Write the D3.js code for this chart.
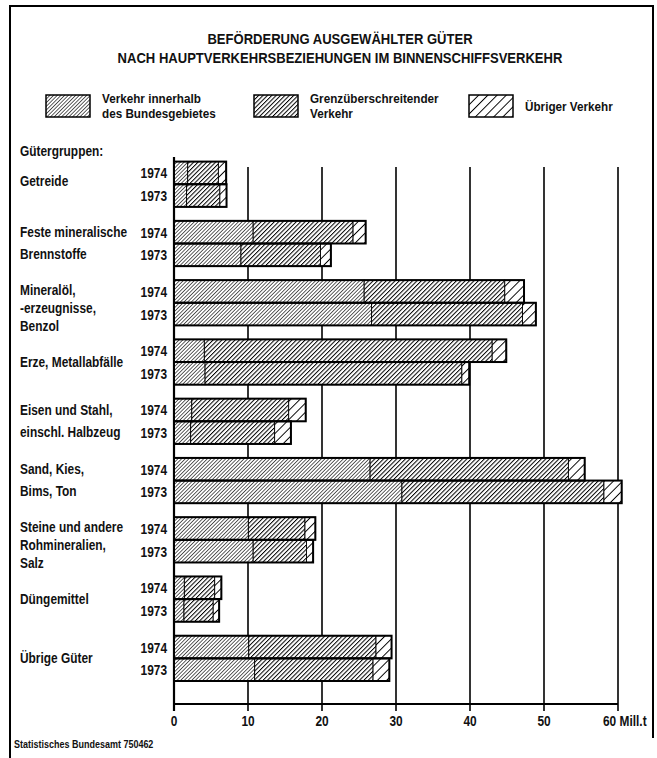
<!DOCTYPE html>
<html><head><meta charset="utf-8">
<script src="https://cdn.jsdelivr.net/npm/d3@7"></script>
<style>
html,body{margin:0;padding:0;background:#fff;}
svg text{font-family:'Liberation Sans','Arial',sans-serif;font-weight:bold;fill:#111;}
</style></head>
<body>
<svg id="c" width="657" height="758"></svg>
<script>
// ---- data ----
const categories = ["Getreide","Feste mineralische Brennstoffe","Mineralöl, -erzeugnisse, Benzol","Erze, Metallabfälle","Eisen und Stahl, einschl. Halbzeug","Sand, Kies, Bims, Ton","Steine und andere Rohmineralien, Salz","Düngemittel","Übrige Güter"];
const categoryLines = [["Getreide"],["Feste mineralische","Brennstoffe"],["Mineralöl,","-erzeugnisse,","Benzol"],["Erze, Metallabfälle"],["Eisen und Stahl,","einschl. Halbzeug"],["Sand, Kies,","Bims, Ton"],["Steine und andere","Rohmineralien,","Salz"],["Düngemittel"],["Übrige Güter"]];
const years = ["1974","1973"];
const seriesNames = ["Verkehr innerhalb des Bundesgebietes","Grenzüberschreitender Verkehr","Übriger Verkehr"];
const legendLines = [["Verkehr innerhalb","des Bundesgebietes"],["Grenzüberschreitender","Verkehr"],["Übriger Verkehr"]];
// Mill. t
const inner1974 = [1.85,10.7,25.7,4.1,2.4,26.5,10.05,1.4,10.1];
const cross1974 = [4.15,13.5,19.0,38.9,13.1,26.8,7.65,4.1,17.2];
const other1974 = [1.05,1.7,2.6,1.9,2.3,2.2,1.4,0.9,2.1];
const inner1973 = [1.7,9.05,26.7,4.2,2.25,30.8,10.7,1.35,10.9];
const cross1973 = [4.5,10.75,20.4,34.7,11.35,27.3,7.2,3.95,16.0];
const other1973 = [0.9,1.4,1.8,1.0,2.2,2.4,0.9,0.8,2.2];
const xTicks = [0,10,20,30,40,50,60];
const titleLines = ["BEFÖRDERUNG AUSGEWÄHLTER GÜTER","NACH HAUPTVERKEHRSBEZIEHUNGEN IM BINNENSCHIFFSVERKEHR"];
const sourceText = "Statistisches Bundesamt 750462";
const unitText = "Mill.t";
const groupHeader = "Gütergruppen:";

// ---- build rows ----
const valuesByYear = {"1974":[inner1974,cross1974,other1974],"1973":[inner1973,cross1973,other1973]};
const rows = [];
categories.forEach((c,i)=>{
  years.forEach(y=>{
    let acc=0;
    valuesByYear[y].forEach((arr,s)=>{
      rows.push({cat:c,year:y,s:s,x0:acc,x1:acc+arr[i]});
      acc+=arr[i];
    });
  });
});

const svg = d3.select("#c");
const x = d3.scaleLinear().domain([0,60]).range([174,618]);
const y = d3.scaleBand().domain(categories).range([154.6,688]).paddingInner(0.236).paddingOuter(0.118);
const yy = d3.scaleBand().domain(years).range([0,y.bandwidth()]);

// condensed text helper
function txt(parent,tx,ty,str,size,anchor,sx){
  return parent.append("text")
    .attr("transform",`translate(${tx},${ty}) scale(${sx||0.84},1)`)
    .attr("text-anchor",anchor||"start").attr("font-size",size).text(str);
}

// patterns
const defs = svg.append("defs");
function hatch(id,spacing,sw,bg){
  const p = defs.append("pattern").attr("id",id).attr("patternUnits","userSpaceOnUse")
    .attr("width",spacing).attr("height",spacing).attr("patternTransform","rotate(45)");
  p.append("rect").attr("width",spacing).attr("height",spacing).attr("fill",bg);
  p.append("line").attr("x1",0).attr("y1",0).attr("x2",0).attr("y2",spacing).attr("stroke","#000").attr("stroke-width",sw);
}
hatch("p0",2.6,1.25,"#fff");
hatch("p1",3.1,2.0,"#fff");
hatch("p2",6.5,1.9,"#fff");
const fills = ["url(#p0)","url(#p1)","url(#p2)"];

// frame
svg.append("path").attr("d","M10,758 L10,6 L653,6 L653,738").attr("fill","none").attr("stroke","#000").attr("stroke-width",2);

// title
titleLines.forEach((t,i)=>txt(svg,340,44+i*19,t,15,"middle",0.87));

// legend
const legX = [46,254,469];
legendLines.forEach((lines,i)=>{
  const g = svg.append("g").attr("transform",`translate(${legX[i]},95)`);
  g.append("rect").attr("width",44).attr("height",22).attr("fill",fills[i]).attr("stroke","#000").attr("stroke-width",1.5);
  lines.forEach((t,k)=>txt(g,56,lines.length===1?16:(8+k*15),t,13,"start",0.9));
});

txt(svg,20,156,groupHeader,14,"start",0.85);

// grid
svg.selectAll("line.grid").data(xTicks.slice(1)).join("line").attr("class","grid")
  .attr("x1",d=>x(d)).attr("x2",d=>x(d)).attr("y1",167).attr("y2",711).attr("stroke","#000").attr("stroke-width",1.6);
svg.append("line").attr("x1",x(0)).attr("x2",x(0)).attr("y1",157).attr("y2",711).attr("stroke","#000").attr("stroke-width",2.2);
svg.append("line").attr("x1",x(0)).attr("x2",x(60)).attr("y1",704).attr("y2",704).attr("stroke","#000").attr("stroke-width",2);

// bars
svg.selectAll("rect.seg").data(rows).join("rect").attr("class","seg")
  .attr("x",d=>x(d.x0)).attr("width",d=>x(d.x1)-x(d.x0))
  .attr("y",d=>y(d.cat)+yy(d.year)).attr("height",yy.bandwidth())
  .attr("fill",d=>fills[d.s]).attr("stroke","#000").attr("stroke-width",0.9);
// bar outlines
const totals = [];
categories.forEach((c,i)=>years.forEach(yr=>{
  const t = valuesByYear[yr].reduce((a,arr)=>a+arr[i],0);
  totals.push({cat:c,year:yr,t:t});
}));
svg.selectAll("rect.out").data(totals).join("rect").attr("class","out")
  .attr("x",x(0)).attr("width",d=>x(d.t)-x(0))
  .attr("y",d=>y(d.cat)+yy(d.year)).attr("height",yy.bandwidth())
  .attr("fill","none").attr("stroke","#000").attr("stroke-width",2);

// year labels
totals.forEach(d=>txt(svg,167,y(d.cat)+yy(d.year)+yy.bandwidth()/2+5.5,d.year,14,"end",0.85));

// category labels
categoryLines.forEach((lines,i)=>{
  const c = categories[i];
  const mid = y(c)+y.bandwidth()/2;
  let ys;
  if(lines.length===1) ys=[mid+(i===0?2:5)];
  else if(lines.length===2) ys=[y(c)+yy("1974")+yy.bandwidth()/2+5, y(c)+yy("1973")+yy.bandwidth()/2+4];
  else ys=[mid-8,mid+10,mid+28];
  lines.forEach((t,k)=>txt(svg,20,ys[k],t,14,"start",0.85));
});

// x tick labels
xTicks.slice(0,-1).forEach(d=>txt(svg,x(d),726,String(d),14,"middle",0.85));
txt(svg,x(60)-15,726,xTicks[xTicks.length-1]+" "+unitText,14,"start",0.85);

// source
txt(svg,14,748,sourceText,10,"start",0.9);
</script>
</body></html>
